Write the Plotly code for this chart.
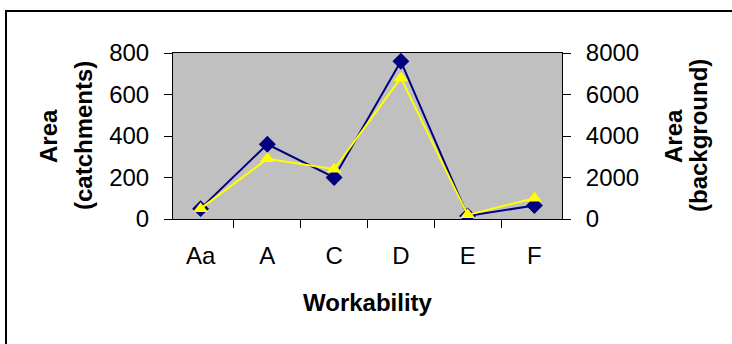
import plotly.graph_objects as go

categories = ["Aa", "A", "C", "D", "E", "F"]
area_catchments = [50, 360, 200, 760, 15, 65]
area_background = [500, 2900, 2400, 6800, 200, 1000]

W, H = 732, 344
ML, MR, MT, MB = 173, 170, 53, 125
PW, PH = W - ML - MR, H - MT - MB

def px(x):
    return (x - ML) / PW

def py(y):
    return 1 - (y - MT) / PH

FONT = "Liberation Sans, Arial, sans-serif"
FS = 24

fig = go.Figure()
fig.add_trace(go.Scatter(
    x=categories, y=area_catchments, mode="lines+markers",
    line=dict(color="#000080", width=2),
    marker=dict(symbol="diamond", size=13, color="#000080"),
    yaxis="y", showlegend=False))
fig.add_trace(go.Scatter(
    x=categories, y=area_background, mode="lines+markers",
    line=dict(color="#FFFF00", width=2),
    marker=dict(symbol="triangle-up", size=13, color="#FFFF00"),
    yaxis="y2", showlegend=False))

axis_common = dict(showgrid=False, zeroline=False, showline=True, linecolor="black",
                   linewidth=1, ticks="outside", tickcolor="black", ticklen=8,
                   tickfont=dict(family=FONT, size=FS, color="black"))

fig.update_layout(
    width=W, height=H,
    margin=dict(l=ML, r=MR, t=MT, b=MB, pad=0),
    paper_bgcolor="white", plot_bgcolor="#C0C0C0",
    xaxis=dict(type="category", tickson="boundaries", mirror=True,
               ticklabelstandoff=15, **axis_common),
    yaxis=dict(range=[0, 800], dtick=200, ticklabelstandoff=10, **axis_common),
    yaxis2=dict(range=[0, 8000], dtick=2000, overlaying="y", side="right",
                ticklabelstandoff=10, **axis_common),
)

title_font = dict(family=FONT, size=FS, color="black")
bold = lambda s: "<b>" + s + "</b>"
ann = [
    dict(text=bold("Workability"), x=px((ML + W - MR) / 2), y=py(302)),
    dict(text=bold("Area"), x=px(48), y=py(136), textangle=-90),
    dict(text=bold("(catchments)"), x=px(83), y=py(136), textangle=-90),
    dict(text=bold("Area"), x=px(673), y=py(136), textangle=-90),
    dict(text=bold("(background)"), x=px(698), y=py(136), textangle=-90),
]
for a in ann:
    fig.add_annotation(xref="paper", yref="paper", showarrow=False,
                       xanchor="center", yanchor="middle", font=title_font, **a)

fig.add_shape(type="rect", xref="paper", yref="paper",
              x0=px(6), y0=py(400), x1=px(760), y1=py(11),
              line=dict(color="black", width=2), fillcolor="rgba(0,0,0,0)", layer="below")

fig.write_html("out.html", config={"displayModeBar": False},
               post_script="document.body.style.margin='0px';document.body.style.overflow='hidden';")
